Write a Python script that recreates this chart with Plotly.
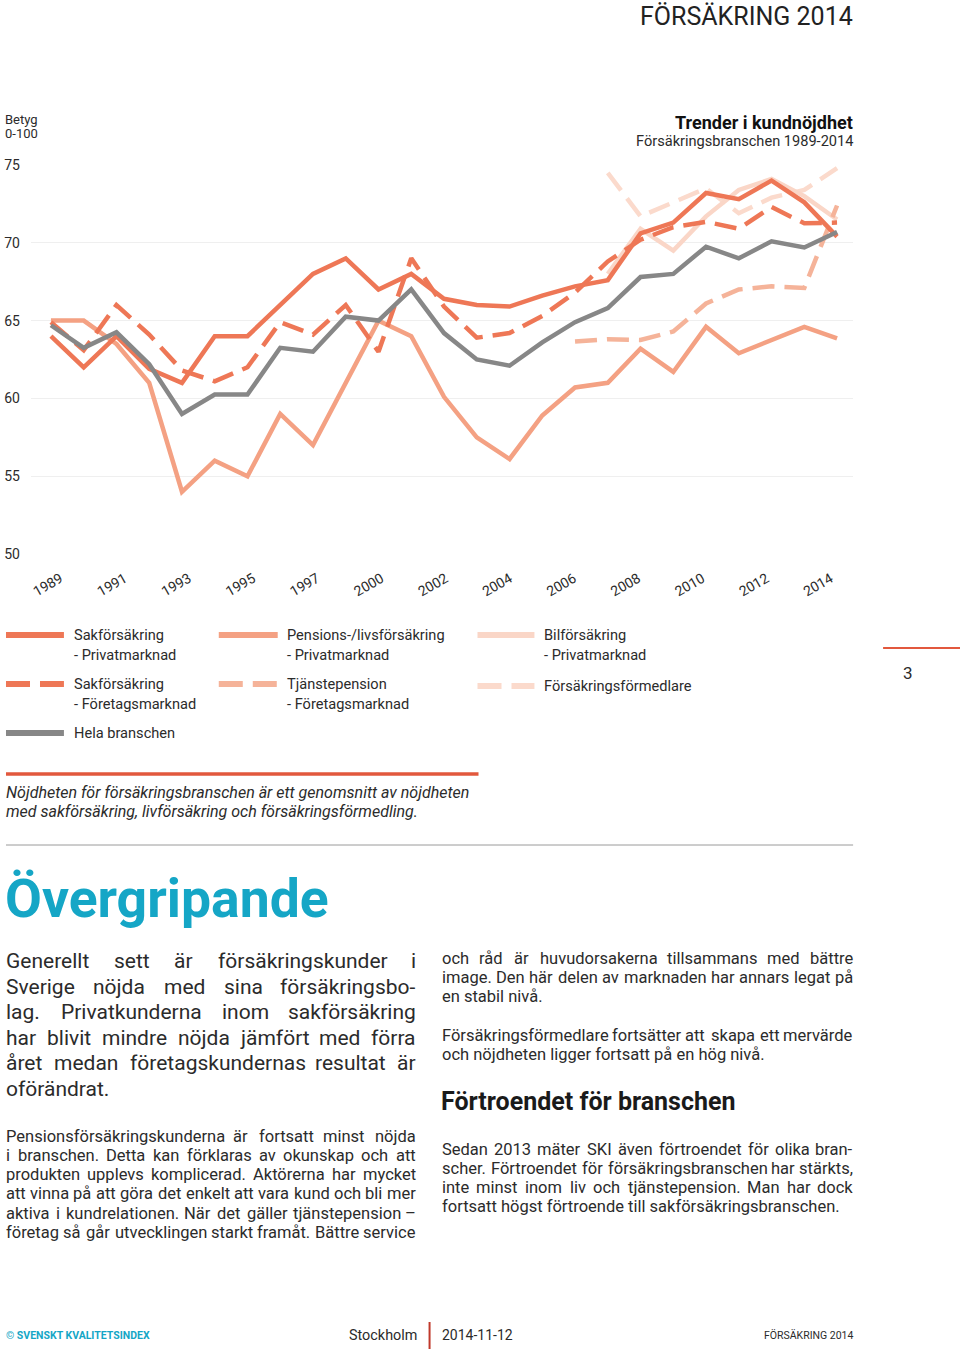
import plotly.graph_objects as go

W, H = 960, 1351
FONT = "Roboto"
TXT = "#2b2b2b"

# ---------------- data ----------------
years = ["1989", "1990", "1991", "1992", "1993", "1994", "1995", "1996", "1997", "1998",
         "2000", "2001", "2002", "2003", "2004", "2005", "2006", "2007", "2008", "2009",
         "2010", "2011", "2012", "2013", "2014"]
tick_years = years[::2]
y_ticks = [50, 55, 60, 65, 70, 75]

sak_privat = [64.0, 62.0, 64.0, 61.9, 61.0, 64.0, 64.0, 66.0, 68.0, 69.0, 67.0, 68.0, 66.4,
              66.0, 65.9, 66.6, 67.2, 67.6, 70.6, 71.3, 73.2, 72.8, 74.0, 72.6, 70.4]
sak_foretag = [64.9, 63.1, 66.0, 64.1, 61.8, 61.1, 62.0, 64.9, 64.1, 66.0, 63.0, 69.0, 65.9,
               63.9, 64.2, 65.3, 66.8, 68.8, 70.2, 71.0, 71.35, 70.9, 72.3, 71.25, 71.3]
pension_privat = [65.0, 65.0, 63.5, 61.0, 54.0, 56.0, 55.0, 59.0, 57.0, 61.0, 65.0, 64.0, 60.1,
                  57.5, 56.1, 58.9, 60.7, 61.0, 63.2, 61.7, 64.6, 62.9, 63.75, 64.6, 63.85]
tjanstepension = [None] * 16 + [63.65, 63.8, 63.75, 64.3, 66.1, 67.0, 67.2, 67.1, 72.4]
bil_privat = [None] * 17 + [68.0, 70.9, 69.5, 71.7, 73.4, 74.1, 73.0, 71.5]
formedlare = [None] * 17 + [74.5, 71.7, 72.6, 73.5, 71.9, 72.9, 73.4, 74.8]
hela = [64.7, 63.25, 64.25, 62.2, 59.0, 60.25, 60.25, 63.25, 63.0, 65.25, 65.0, 67.0, 64.2,
        62.5, 62.1, 63.6, 64.9, 65.8, 67.8, 68.0, 69.75, 69.0, 70.1, 69.7, 70.7]

C_SAK = "#ee7756"
C_PEN = "#f4a183"
C_TJA = "#f5b399"
C_BIL = "#fad6c7"
C_FOR = "#fbdacc"
C_HELA = "#878787"
DASH = "22px,10px"

series = [
    ("Försäkringsförmedlare", formedlare, C_FOR, DASH),
    ("Bilförsäkring - Privatmarknad", bil_privat, C_BIL, "solid"),
    ("Tjänstepension - Företagsmarknad", tjanstepension, C_TJA, DASH),
    ("Pensions-/livsförsäkring - Privatmarknad", pension_privat, C_PEN, "solid"),
    ("Sakförsäkring - Företagsmarknad", sak_foretag, C_SAK, DASH),
    ("Sakförsäkring - Privatmarknad", sak_privat, C_SAK, "solid"),
    ("Hela branschen", hela, C_HELA, "solid"),
]

# page-pixel -> paper helpers
VOFF, VH = 8, 1335


def px(x):
    return x / W


def py(y):
    return 1 - (y - VOFF) / VH


fig = go.Figure()
for name, vals, col, dash in series:
    fig.add_trace(go.Scatter(x=years, y=vals, name=name, mode="lines",
                             line=dict(color=col, width=4.5, dash=dash),
                             connectgaps=False, showlegend=False))

# empty helper trace so that the year-label axis (x2) is drawn
lab_idx = list(range(0, len(years), 2))
fig.add_trace(go.Scatter(x=lab_idx, y=[None] * len(lab_idx), xaxis="x2", yaxis="y",
                         mode="lines", showlegend=False, hoverinfo="skip"))

annotations = []


def text(x, y, s, size=14, anchor="left", bold=False, italic=False, color=TXT):
    if bold:
        s = "<b>" + s + "</b>"
    if italic:
        s = "<i>" + s + "</i>"
    annotations.append(dict(x=px(x), y=py(y), xref="paper", yref="paper", text=s,
                            showarrow=False, xanchor=anchor, yanchor="middle",
                            borderpad=0, borderwidth=0,
                            font=dict(family=FONT, size=size, color=color)))


# approximate Roboto advance widths (em) for justified text
CW = {" ": .248, ",": .197, "-": .276, ".": .264, "/": .412, "–": .556,
      "A": .652, "B": .623, "C": .651, "D": .656, "E": .568, "F": .553, "G": .681,
      "H": .713, "I": .272, "J": .552, "K": .627, "L": .538, "M": .873, "N": .713,
      "O": .688, "P": .631, "R": .616, "S": .593, "T": .597, "V": .636,
      "a": .544, "b": .561, "c": .523, "d": .564, "e": .530, "f": .347, "g": .561,
      "h": .551, "i": .243, "j": .239, "k": .507, "l": .243, "m": .877, "n": .552,
      "o": .570, "p": .561, "r": .339, "s": .516, "t": .327, "u": .551, "v": .484,
      "w": .751, "x": .496, "y": .473, "z": .496, "å": .544, "ä": .544, "ö": .570,
      "Ö": .688, "Ä": .652}


def est_w(s, size):
    return sum(CW.get(c, .562) for c in s) * size * 0.985


def justified(x0, x1, y, s, size):
    words = s.split(" ")
    if len(words) < 2:
        text(x0, y, s, size=size)
        return
    ws = [est_w(w, size) for w in words]
    gap = max((x1 - x0 - sum(ws)) / (len(words) - 1), 0.22 * size)
    xpos = x0
    for k, w in enumerate(words):
        if k == len(words) - 1:
            text(x1, y, w, size=size, anchor="right")
        else:
            text(xpos, y, w, size=size)
        xpos += ws[k] + gap


def paragraph(x0, x1, y0, lh, lines, size, last_justified=False):
    for i, s in enumerate(lines):
        y = y0 + i * lh
        if i < len(lines) - 1 or last_justified:
            justified(x0, x1, y, s, size)
        else:
            text(x0, y, s, size=size)


shapes = []


def hline(x0, x1, y, color, width, dash="solid"):
    shapes.append(dict(type="line", xref="paper", yref="paper", x0=px(x0), x1=px(x1),
                       y0=py(y), y1=py(y), line=dict(color=color, width=width, dash=dash)))


# header
text(853, 17, "FÖRSÄKRING 2014", size=25, anchor="right", color="#222")
text(4, 119, "Betyg", size=13)
text(4, 134, "0-100", size=13)
text(853, 122, "Trender i kundnöjdhet", size=18, anchor="right", bold=True, color="#111")
text(853, 141, "Försäkringsbranschen 1989-2014", size=14.6, anchor="right")

# legend (manual, three columns)
legend_items = [
    (5, 63, 635, C_SAK, "solid", ["Sakförsäkring", "- Privatmarknad"], 73),
    (218, 277, 635, C_PEN, "solid", ["Pensions-/livsförsäkring", "- Privatmarknad"], 286),
    (477, 534, 635, C_BIL, "solid", ["Bilförsäkring", "- Privatmarknad"], 544),
    (5, 63, 684, C_SAK, "24px,10px", ["Sakförsäkring", "- Företagsmarknad"], 73),
    (218, 277, 684, C_TJA, "24px,10px", ["Tjänstepension", "- Företagsmarknad"], 286),
    (477, 534, 686, C_FOR, "24px,10px", ["Försäkringsförmedlare"], 544),
    (5, 63, 733, C_HELA, "solid", ["Hela branschen"], 73),
]
for x0, x1, y, col, dash, lines, tx in legend_items:
    hline(x0, x1, y, col, 6, dash)
    for j, s in enumerate(lines):
        text(tx, y + j * 19.5, s, size=14.6)

# page number marker
hline(883, 960, 648, "#e2583d", 2)
text(908, 673, "3", size=17, anchor="center")

# note
hline(5, 478, 774, "#e2583d", 3.5)
text(5, 792, "Nöjdheten för försäkringsbranschen är ett genomsnitt av nöjdheten", size=16, italic=True)
text(5, 811, "med sakförsäkring, livförsäkring och försäkringsförmedling.", size=16, italic=True)
hline(5, 853, 845, "#9a9a9a", 1)

# heading
text(4, 898, "Övergripande", size=53.5, bold=True, color="#15a6c6")

left_big = ["Generellt sett är försäkringskunder i",
            "Sverige nöjda med sina försäkringsbo-",
            "lag. Privatkunderna inom sakförsäkring",
            "har blivit mindre nöjda jämfört med förra",
            "året medan företagskundernas resultat är",
            "oförändrat."]
paragraph(5, 415, 961, 25.6, left_big, 21)

left_small = ["Pensionsförsäkringskunderna är fortsatt minst nöjda",
              "i branschen. Detta kan förklaras av okunskap och att",
              "produkten upplevs komplicerad. Aktörerna har mycket",
              "att vinna på att göra det enkelt att vara kund och bli mer",
              "aktiva i kundrelationen. När det gäller tjänstepension –",
              "företag så går utvecklingen starkt framåt. Bättre service"]
paragraph(5, 415, 1136, 19.3, left_small, 16.5, last_justified=True)

right_p1 = ["och råd är huvudorsakerna tillsammans med bättre",
            "image. Den här delen av marknaden har annars legat på",
            "en stabil nivå."]
paragraph(441, 853, 958, 19.3, right_p1, 16.5)
right_p2 = ["Försäkringsförmedlare fortsätter att skapa ett mervärde",
            "och nöjdheten ligger fortsatt på en hög nivå."]
paragraph(441, 853, 1035, 19.3, right_p2, 16.5)
text(440, 1101, "Förtroendet för branschen", size=25, bold=True, color="#1a1a1a")
right_p3 = ["Sedan 2013 mäter SKI även förtroendet för olika bran-",
            "scher. Förtroendet för försäkringsbranschen har stärkts,",
            "inte minst inom liv och tjänstepension. Man har dock",
            "fortsatt högst förtroende till sakförsäkringsbranschen."]
paragraph(441, 853, 1149, 19.3, right_p3, 16.5)

# footer
text(5, 1335, "© SVENSKT KVALITETSINDEX", size=10.5, bold=True, color="#15a6c6")
text(416, 1335, "Stockholm", size=14.4, anchor="right")
text(441, 1335, "2014-11-12", size=14)
text(853, 1335, "FÖRSÄKRING 2014", size=10.5, anchor="right")
shapes.append(dict(type="line", xref="paper", yref="paper", x0=px(429), x1=px(429),
                   y0=py(1322), y1=py(1349), line=dict(color="#c0392b", width=2)))

fig.update_layout(
    width=W, height=H,
    margin=dict(l=0, r=0, t=0, b=0),
    paper_bgcolor="white", plot_bgcolor="white",
    font=dict(family=FONT, color=TXT),
    showlegend=False,
    annotations=annotations,
    shapes=shapes,
    xaxis=dict(type="category", domain=[px(30), px(853)], range=[-0.61, 24.49],
               showticklabels=False, showgrid=False, zeroline=False, showline=False,
               ticks="", fixedrange=True),
    xaxis2=dict(overlaying="x", anchor="y", side="bottom", domain=[px(30), px(853)],
                range=[-0.5447, 25.074], tickmode="array", tickvals=lab_idx,
                ticktext=tick_years, tickangle=-30, showgrid=False, zeroline=False,
                showline=False, ticks="", ticklabelshift=12, ticklabelstandoff=13,
                tickfont=dict(family=FONT, size=14, color=TXT), fixedrange=True),
    yaxis=dict(range=[50, 75], domain=[py(554), py(165)], tickmode="array",
               tickvals=y_ticks, showgrid=True, gridcolor="#efefef", gridwidth=1,
               zeroline=False, showline=False, ticks="", ticklabelstandoff=10,
               tickfont=dict(family=FONT, size=14, color=TXT), fixedrange=True),
)

fig.write_html("out.html", config={"displayModeBar": False},
               post_script="document.body.style.margin='0';document.body.style.overflow='hidden';")
